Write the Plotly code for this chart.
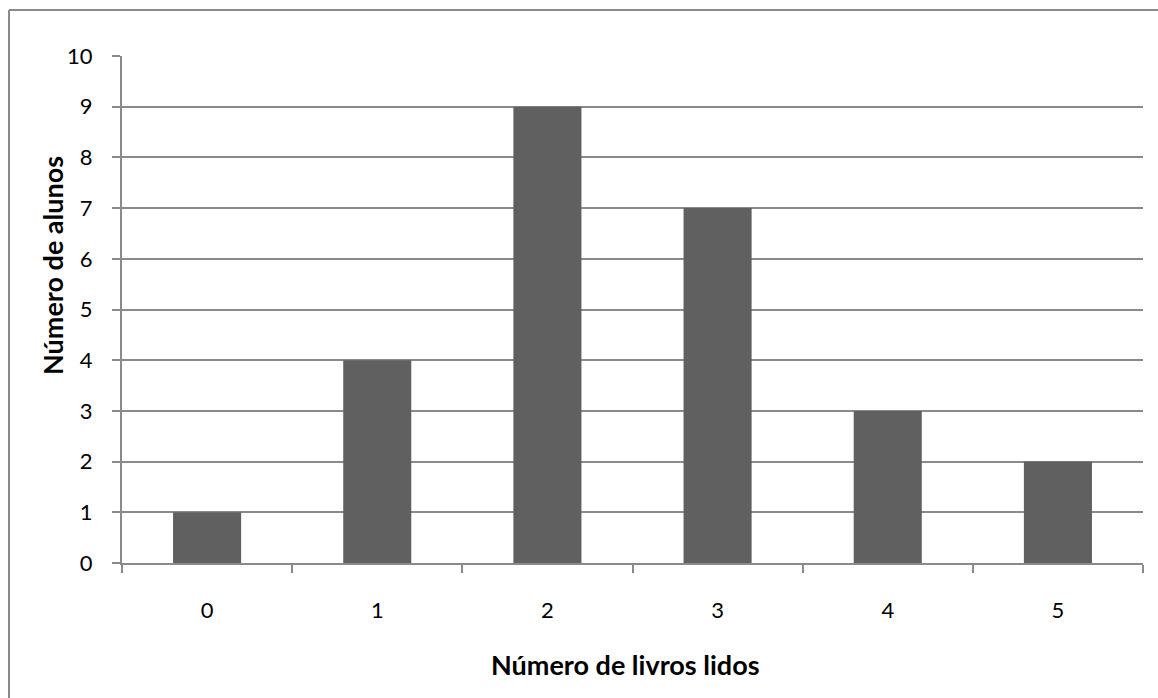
import plotly.graph_objects as go

# Books read per student (histogram-style bar chart)
livros = ["0", "1", "2", "3", "4", "5"]
alunos = [1, 4, 9, 7, 3, 2]
y_ticks = list(range(0, 11))

W, H = 1158, 698
L, R, T, B = 122, 15, 56, 135
pw, ph = W - L - R, H - T - B

def px_to_paper_x(px):
    return (px - L) / pw

def px_to_paper_y(py):
    return (H - B - py) / ph

grid = "#8a8a8a"
font_family = "Lato, 'Open Sans', sans-serif"

fig = go.Figure(
    go.Bar(
        x=livros,
        y=alunos,
        marker=dict(color="#606060", line=dict(width=0)),
        hoverinfo="x+y",
    )
)

fig.update_layout(
    width=W,
    height=H,
    margin=dict(l=L, r=R, t=T, b=B, pad=0),
    paper_bgcolor="white",
    plot_bgcolor="white",
    bargap=0.6,
    showlegend=False,
    font=dict(family=font_family, size=22, color="black"),
    xaxis=dict(
        type="category",
        showgrid=False,
        showline=True,
        linecolor=grid,
        linewidth=2,
        ticks="outside",
        tickson="boundaries",
        ticklen=8,
        tickwidth=2,
        tickcolor=grid,
        ticklabelstandoff=27,
        tickfont=dict(size=22),
        zeroline=False,
    ),
    yaxis=dict(
        range=[0, 10],
        tickvals=y_ticks,
        showgrid=True,
        gridcolor=grid,
        gridwidth=2,
        showline=True,
        linecolor=grid,
        linewidth=2,
        ticks="outside",
        ticklen=8,
        tickwidth=2,
        tickcolor=grid,
        ticklabelstandoff=15,
        tickfont=dict(size=22),
        zeroline=False,
    ),
    annotations=[
        dict(
            text="<b>Número de livros lidos</b>",
            xref="paper", yref="paper",
            x=px_to_paper_x(625), y=px_to_paper_y(664),
            xanchor="center", yanchor="middle",
            showarrow=False,
            font=dict(size=27, family=font_family),
        ),
        dict(
            text="<b>Número de alunos</b>",
            xref="paper", yref="paper",
            x=px_to_paper_x(52), y=px_to_paper_y(266),
            xanchor="center", yanchor="middle",
            textangle=-90,
            showarrow=False,
            font=dict(size=27, family=font_family),
        ),
    ],
    shapes=[
        # chart-area frame (top and left edges)
        dict(
            type="line", xref="paper", yref="paper",
            x0=px_to_paper_x(9), x1=px_to_paper_x(W + 20),
            y0=px_to_paper_y(10), y1=px_to_paper_y(10),
            line=dict(color=grid, width=2),
        ),
        dict(
            type="line", xref="paper", yref="paper",
            x0=px_to_paper_x(9), x1=px_to_paper_x(9),
            y0=px_to_paper_y(10), y1=px_to_paper_y(H + 20),
            line=dict(color=grid, width=2),
        ),
    ],
)

fig.write_html("out.html")
